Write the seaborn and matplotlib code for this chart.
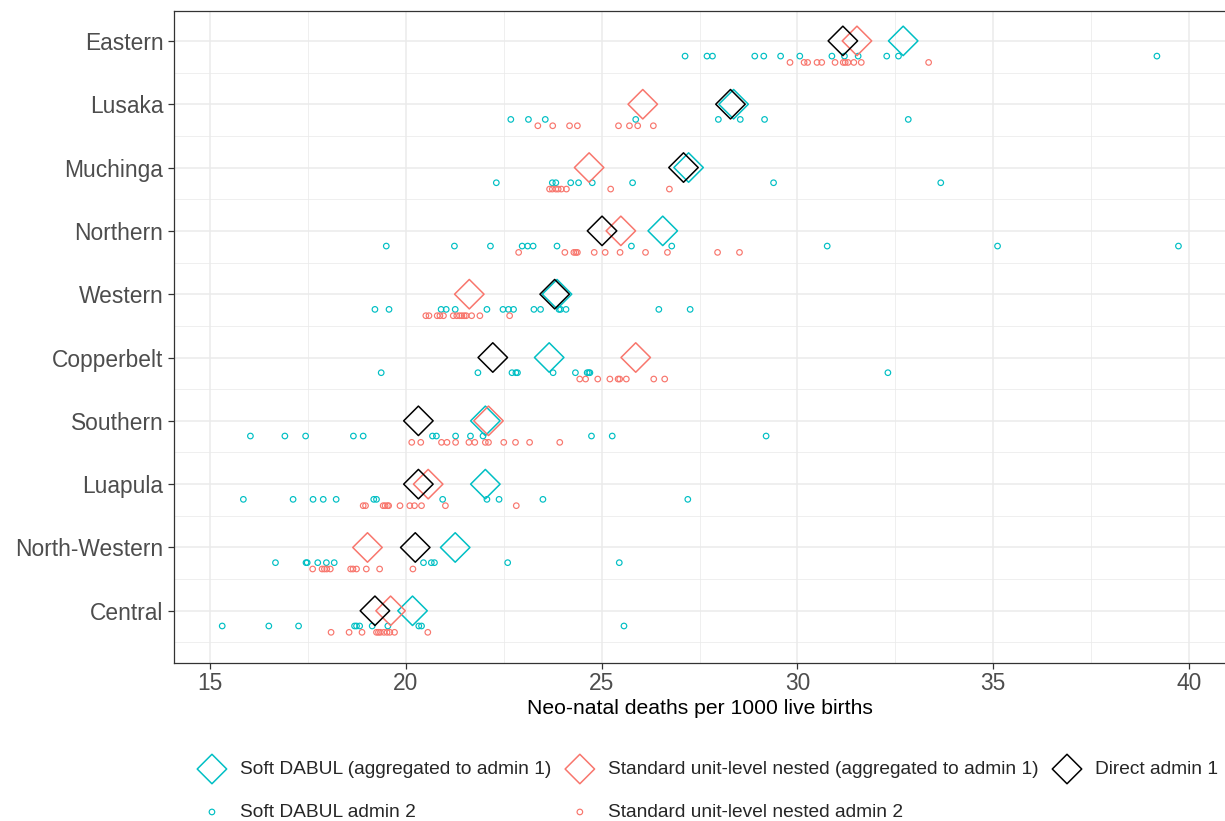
import pandas as pd
import matplotlib.pyplot as plt
from matplotlib.ticker import MultipleLocator
import seaborn as sns

# Regions from bottom to top
regions = ['Central', 'North-Western', 'Luapula', 'Southern', 'Copperbelt',
           'Western', 'Northern', 'Muchinga', 'Lusaka', 'Eastern']

# Admin 1 estimates (same order as regions)
direct_admin1 = [19.21, 20.24, 20.32, 20.32, 22.22, 23.80, 25.01, 27.09, 28.29, 31.16]
soft_admin1 = [20.17, 21.26, 22.03, 22.03, 23.66, 23.86, 26.56, 27.22, 28.37, 32.70]
std_admin1 = [19.61, 19.02, 20.57, 22.11, 25.87, 21.62, 25.49, 24.68, 26.05, 31.52]

# Soft DABUL admin 2 estimates
soft_central = [15.31, 16.50, 17.26, 18.69, 18.74, 18.82, 19.14, 19.54, 20.33, 20.40, 25.57]
soft_northwestern = [16.67, 17.45, 17.48, 17.75, 17.97, 18.17, 20.45, 20.65, 20.73, 22.60, 25.45]
soft_luapula = [15.85, 17.12, 17.63, 17.89, 18.22, 19.18, 19.25, 20.94, 22.07, 22.38, 23.50, 27.20]
soft_southern = [16.03, 16.91, 17.44, 18.66, 18.91, 20.68, 20.78, 21.27, 21.65, 21.97, 24.74, 25.27, 29.20]
soft_copperbelt = [19.37, 21.84, 22.71, 22.81, 22.85, 23.76, 24.33, 24.63, 24.67, 24.70, 32.31]
soft_western = [19.21, 19.57, 20.90, 21.03, 21.26, 22.07, 22.48, 22.62, 22.75, 23.27, 23.44,
                23.91, 23.95, 24.09, 26.46, 27.26]
soft_northern = [19.50, 21.24, 22.16, 22.97, 23.11, 23.25, 23.86, 25.76, 26.79, 30.76, 35.11, 39.73]
soft_muchinga = [22.31, 23.74, 23.83, 24.21, 24.41, 24.76, 25.79, 29.39, 33.66]
soft_lusaka = [22.68, 23.13, 23.56, 25.87, 27.98, 28.54, 29.16, 32.83]
soft_eastern = [27.13, 27.69, 27.83, 28.91, 29.14, 29.57, 30.06, 30.88, 31.20, 31.55, 32.28, 32.58, 39.18]

# Standard unit-level nested admin 2 estimates
std_central = [18.09, 18.55, 18.88, 19.25, 19.30, 19.35, 19.44, 19.52, 19.59, 19.71, 20.56]
std_northwestern = [17.62, 17.86, 17.92, 17.98, 18.07, 18.59, 18.65, 18.74, 18.99, 19.33, 20.18]
std_luapula = [18.91, 18.97, 19.42, 19.47, 19.53, 19.56, 19.85, 20.10, 20.22, 20.40, 21.01, 22.82]
std_southern = [20.15, 20.38, 20.91, 21.05, 21.27, 21.61, 21.76, 22.03, 22.11, 22.50, 22.80, 23.16, 23.93]
std_copperbelt = [24.44, 24.59, 24.90, 25.21, 25.42, 25.46, 25.63, 26.33, 26.61]
std_western = [20.51, 20.59, 20.80, 20.87, 20.96, 21.21, 21.30, 21.37, 21.43, 21.49, 21.54,
               21.68, 21.89, 22.65]
std_northern = [22.88, 24.06, 24.29, 24.34, 24.38, 24.81, 25.09, 25.47, 26.12, 26.68, 27.96, 28.52]
std_muchinga = [23.67, 23.74, 23.83, 23.89, 23.97, 24.10, 25.23, 26.73]
std_lusaka = [23.37, 23.75, 24.18, 24.38, 25.43, 25.71, 25.92, 26.32]
std_eastern = [29.81, 30.17, 30.26, 30.50, 30.62, 30.96, 31.17, 31.22, 31.29, 31.44, 31.63, 33.35]

soft_lists = [soft_central, soft_northwestern, soft_luapula, soft_southern, soft_copperbelt,
              soft_western, soft_northern, soft_muchinga, soft_lusaka, soft_eastern]
std_lists = [std_central, std_northwestern, std_luapula, std_southern, std_copperbelt,
             std_western, std_northern, std_muchinga, std_lusaka, std_eastern]

teal = '#00BFC4'
red = '#F8766D'

# Build data frames (y = region index, admin 2 points nudged downward)
admin1 = pd.DataFrame({'region': regions,
                       'pos': range(1, len(regions) + 1),
                       'direct': direct_admin1,
                       'soft': soft_admin1,
                       'std': std_admin1})

rows = []
for i, reg in enumerate(regions):
    for v in soft_lists[i]:
        rows.append({'region': reg, 'pos': i + 1 - 0.24, 'value': v, 'model': 'soft'})
    for v in std_lists[i]:
        rows.append({'region': reg, 'pos': i + 1 - 0.34, 'value': v, 'model': 'std'})
admin2 = pd.DataFrame(rows)

sns.set_style('white')
plt.rcParams['font.family'] = ['Liberation Sans', 'DejaVu Sans']

fig = plt.figure(figsize=(12.25, 8.21), dpi=100)
ax = fig.add_axes([0.1424, 0.1928, 0.8586, 0.7944])

d_size = 225
c_size = 16

sns.scatterplot(data=admin2[admin2['model'] == 'soft'], x='value', y='pos', ax=ax,
                marker='o', s=c_size, color=teal, facecolor='none', edgecolor=teal,
                linewidth=0.85, label='Soft DABUL admin 2', zorder=3)
sns.scatterplot(data=admin2[admin2['model'] == 'std'], x='value', y='pos', ax=ax,
                marker='o', s=c_size, color=red, facecolor='none', edgecolor=red,
                linewidth=0.85, label='Standard unit-level nested admin 2', zorder=3)
sns.scatterplot(data=admin1, x='soft', y='pos', ax=ax, marker='D', s=d_size, color=teal,
                facecolor='none', edgecolor=teal, linewidth=1.1,
                label='Soft DABUL (aggregated to admin 1)', zorder=4)
sns.scatterplot(data=admin1, x='std', y='pos', ax=ax, marker='D', s=d_size, color=red,
                facecolor='none', edgecolor=red, linewidth=1.1,
                label='Standard unit-level nested (aggregated to admin 1)', zorder=4)
sns.scatterplot(data=admin1, x='direct', y='pos', ax=ax, marker='D', s=d_size, color='black',
                facecolor='none', edgecolor='black', linewidth=1.1,
                label='Direct admin 1', zorder=5)

handles, labels = ax.get_legend_handles_labels()
ax.get_legend().remove()
order = [2, 0, 3, 1, 4]
fig.legend([handles[i] for i in order], [labels[i] for i in order], ncol=3,
           loc='upper left', bbox_to_anchor=(202.4 / 1225, 0.0735), frameon=False,
           fontsize=13.75, handlelength=1.0, handletextpad=0.96, columnspacing=1.0,
           labelspacing=1.34, borderpad=0, borderaxespad=0, scatterpoints=1)

ax.set_xlim(14.09, 40.95)
ax.set_ylim(0.18, 10.48)
ax.xaxis.set_major_locator(MultipleLocator(5))
ax.xaxis.set_minor_locator(MultipleLocator(2.5))
ax.set_yticks(admin1['pos'])
ax.set_yticklabels(regions)
ax.yaxis.set_minor_locator(MultipleLocator(0.5))

ax.grid(which='major', color='#EBEBEB', linewidth=1.1, zorder=0)
ax.grid(which='minor', color='#EBEBEB', linewidth=0.55, zorder=0)
ax.set_axisbelow(True)

ax.tick_params(axis='x', which='major', pad=2.5)
ax.tick_params(axis='y', which='major', pad=4)
ax.tick_params(axis='both', which='major', labelsize=16.4, labelcolor='#4D4D4D',
               length=4, width=0.9, color='#333333', direction='out',
               bottom=True, left=True)
ax.tick_params(which='minor', length=0)
for s in ax.spines.values():
    s.set_color('#333333')
    s.set_linewidth(0.9)

ax.set_xlabel('Neo-natal deaths per 1000 live births', fontsize=15.2, color='black', labelpad=3)
ax.set_ylabel('')

plt.savefig('out.png', dpi=100)
